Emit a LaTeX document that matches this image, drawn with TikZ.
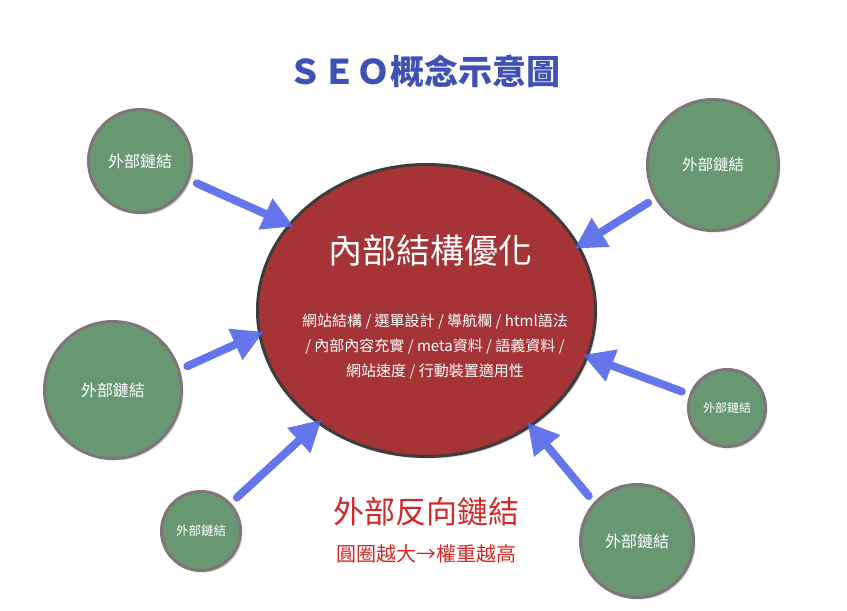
\documentclass[tikz,border=0pt]{standalone}
\usepackage{fontspec}
\setmainfont{Noto Sans CJK TC}
\usetikzlibrary{shapes.geometric,arrows.meta,shadows}
\definecolor{coreRed}{RGB}{166,52,55}
\definecolor{coreEdge}{RGB}{60,60,60}
\definecolor{linkGreen}{RGB}{104,152,114}
\definecolor{linkEdge}{RGB}{128,118,120}
\definecolor{arrBlue}{RGB}{80,100,235}
\definecolor{titleBlue}{RGB}{63,81,181}
\definecolor{noteRed}{RGB}{210,40,40}
\begin{document}
\begin{tikzpicture}[x=1pt,y=-1pt,
  link/.style={circle,draw=linkEdge,line width=3pt,fill=linkGreen,inner sep=0pt,
    text=white,drop shadow={opacity=0.35,shadow xshift=2pt,shadow yshift=-2pt}},
  core/.style={ellipse,draw=coreEdge,line width=3pt,fill=coreRed,inner sep=0pt,
    drop shadow={opacity=0.35,shadow xshift=2pt,shadow yshift=-2pt}},
  arr/.style={draw=arrBlue,line width=8pt,line cap=round,
    shorten <=8pt,shorten >=-6pt,-{Triangle[length=31pt,width=32pt]}}
]
\useasboundingbox (0,0) rectangle (847,611);
\fill[white] (0,0) rectangle (847,611);

% title
\node[text=titleBlue,font=\fontsize{34}{37}\selectfont\bfseries] (title) at (424,71) {ＳＥＯ概念示意圖};

% core ellipse
\node[core,minimum width=338pt,minimum height=292pt] (core) at (426.5,310.5) {};
\node[text=white,font=\fontsize{34}{38}\selectfont] (coretitle) at (430,251) {內部結構優化};
\node[text=white,align=center,font=\fontsize{15}{25}\selectfont] (corebody) at (435,347)
  {網站結構 / 選單設計 / 導航欄 / html語法\\/ 內部內容充實 / meta資料 / 語義資料 /\\網站速度 / 行動裝置適用性};

% link circles
\node[link,minimum size=103pt,font=\fontsize{16}{19}\selectfont] (c1) at (140,161) {外部鏈結};
\node[link,minimum size=131pt,font=\fontsize{15.5}{19}\selectfont] (c2) at (713,165) {外部鏈結};
\node[link,minimum size=137pt,font=\fontsize{16}{19}\selectfont] (c3) at (113,390) {外部鏈結};
\node[link,minimum size=77pt,font=\fontsize{12}{14}\selectfont] (c4) at (727,408) {外部鏈結};
\node[link,minimum size=79pt,font=\fontsize{12.5}{14}\selectfont] (c5) at (201,531) {外部鏈結};
\node[link,minimum size=113pt,font=\fontsize{16}{19}\selectfont] (c6) at (637,541) {外部鏈結};

% arrows
\begin{scope}[transparency group,opacity=0.88]
\draw[arr] (c1.-21.6) -- (core.148.8);
\draw[arr] (c2.210.6) -- (core.23.8);
\draw[arr] (c3.17.2) -- (core.188.1);
\draw[arr] (c4.160.3) -- (core.-16.5);
\draw[arr] (c5.43) -- (core.226.8);
\draw[arr] (c6.138) -- (core.-48.2);
\end{scope}

% notes
\node[text=noteRed,font=\fontsize{31}{34}\selectfont] (note1) at (426,512) {外部反向鏈結};
\node[text=noteRed,font=\fontsize{20}{23}\selectfont] (note2) at (426,554) {圓圈越大→權重越高};
\end{tikzpicture}
\end{document}
